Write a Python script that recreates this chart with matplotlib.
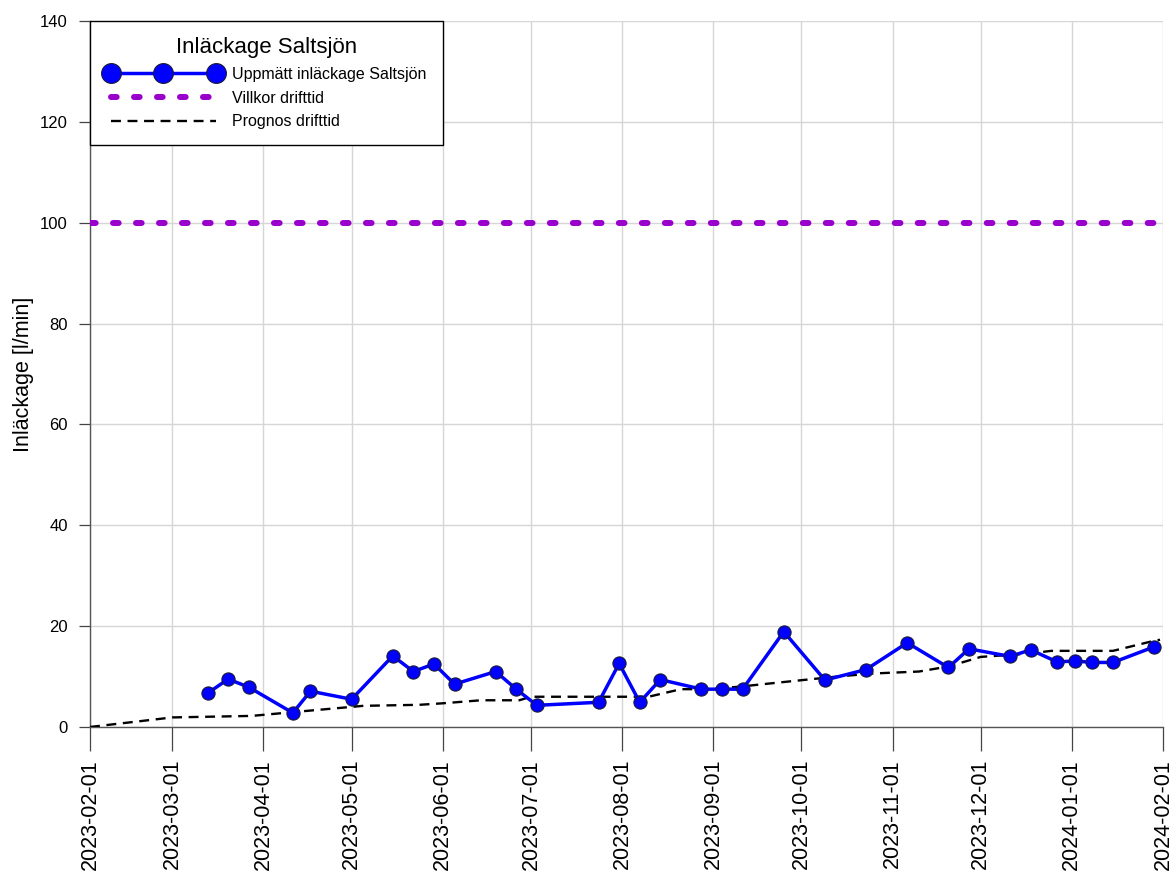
import matplotlib
matplotlib.use("Agg")
import matplotlib.pyplot as plt
import matplotlib.dates as mdates
import numpy as np
import pandas as pd

plt.rcParams['font.family'] = ['Liberation Sans', 'DejaVu Sans']

# Measured inflow (l/min)
measured_dates = ["2023-03-13", "2023-03-20", "2023-03-27", "2023-04-11", "2023-04-17",
                  "2023-05-01", "2023-05-15", "2023-05-22", "2023-05-29", "2023-06-05",
                  "2023-06-19", "2023-06-26", "2023-07-03", "2023-07-24", "2023-07-31",
                  "2023-08-07", "2023-08-14", "2023-08-28", "2023-09-04", "2023-09-11",
                  "2023-09-25", "2023-10-09", "2023-10-23", "2023-11-06", "2023-11-20",
                  "2023-11-27", "2023-12-11", "2023-12-18", "2023-12-27", "2024-01-02",
                  "2024-01-08", "2024-01-15", "2024-01-29"]
measured_values = [6.7, 9.5, 7.9, 2.8, 7.1,
                   5.5, 14.1, 11.0, 12.5, 8.5,
                   11.0, 7.5, 4.3, 4.9, 12.6,
                   4.9, 9.4, 7.5, 7.5, 7.5,
                   18.9, 9.3, 11.4, 16.7, 11.8,
                   15.5, 14.0, 15.3, 12.9, 13.1,
                   12.8, 12.8, 15.9]

# Forecast during operation
forecast_dates = ["2023-02-01", "2023-03-01", "2023-03-28", "2023-04-12", "2023-05-05",
                  "2023-05-24", "2023-06-01", "2023-06-14", "2023-06-27", "2023-07-01",
                  "2023-08-10", "2023-08-21", "2023-08-30", "2023-09-10", "2023-09-23",
                  "2023-10-13", "2023-10-25", "2023-11-10", "2023-11-20", "2023-12-01",
                  "2023-12-18", "2023-12-25", "2024-01-15", "2024-01-29", "2024-01-31"]
forecast_values = [0.0, 1.9, 2.2, 3.0, 4.2,
                   4.4, 4.7, 5.3, 5.3, 6.0,
                   6.0, 7.5, 7.5, 8.0, 8.8,
                   10.0, 10.6, 11.0, 12.0, 13.9,
                   14.6, 15.1, 15.1, 17.1, 17.3]

# Permit condition during operation
limit_dates = ["2023-02-01", "2024-02-01"]
limit_values = [100, 100]

x_start, x_end = "2023-02-01", "2024-02-01"
y_ticks = [0, 20, 40, 60, 80, 100, 120, 140]

fig = plt.figure(figsize=(11.76, 8.75), dpi=100)
ax = fig.add_axes([90 / 1176, 1 - 727 / 875, (1163 - 90) / 1176, (727 - 21) / 875])

ax.plot(pd.to_datetime(measured_dates), measured_values, color='#0000FF', lw=2.5,
        marker='o', ms=9.5, mfc='#0000FF', mec='#1a1a3a', mew=0.8,
        label='Uppmätt inläckage Saltsjön', zorder=5)
ax.plot(pd.to_datetime(limit_dates), limit_values, color='#9900CC', lw=4.3,
        linestyle=(0, (0.95, 2.9)), dash_capstyle='round',
        label='Villkor drifttid', zorder=4)
ax.plot(pd.to_datetime(forecast_dates), forecast_values, color='black', lw=1.7,
        linestyle=(0, (4.2, 2.8)), label='Prognos drifttid', zorder=3)

ax.set_xlim(pd.Timestamp(x_start), pd.Timestamp(x_end))
ax.set_ylim(0, 140)
ax.set_yticks(y_ticks)
ax.xaxis.set_major_locator(mdates.MonthLocator())
ax.xaxis.set_major_formatter(mdates.DateFormatter('%Y-%m-%d'))

ax.grid(True, color='#d6d6d6', lw=1.0, zorder=0)
ax.set_axisbelow(True)
for side in ['top', 'right']:
    ax.spines[side].set_visible(False)
for side in ['left', 'bottom']:
    ax.spines[side].set_color('#555555')
    ax.spines[side].set_linewidth(1.0)

ax.tick_params(axis='x', direction='out', length=17, width=0.9, color='#444444',
               labelsize=15.5, pad=6, labelrotation=90)
ax.tick_params(axis='y', direction='out', length=8, width=0.9, color='#444444',
               labelsize=12, pad=8)
ax.set_ylabel('Inläckage [l/min]', fontsize=15.5, labelpad=4)

leg = ax.legend(loc='upper left', bbox_to_anchor=(0.0, 1.0), borderaxespad=0.0,
                title='Inläckage Saltsjön', title_fontsize=16, fontsize=11.5,
                numpoints=3, markerscale=1.5, handlelength=7.2, handletextpad=0.7,
                borderpad=1.0, labelspacing=0.55, fancybox=False,
                edgecolor='black', framealpha=1)
leg.get_frame().set_linewidth(1.0)

fig.savefig('out.png', dpi=100)
